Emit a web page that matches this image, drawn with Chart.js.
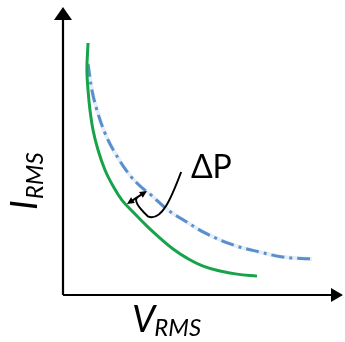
<!DOCTYPE html>
<html>
<head>
<meta charset="utf-8">
<script src="https://cdn.jsdelivr.net/npm/chart.js@4"></script>
<style>
html,body{margin:0;padding:0;background:#fff;}
#wrap{width:345px;height:342px;position:relative;}
</style>
</head>
<body>
<div id="wrap"><canvas id="c" width="345" height="342"></canvas></div>
<script>
// Data (arbitrary units, x: V_RMS, y: I_RMS)
const greenX = [0.90, 0.86, 0.90, 0.97, 1.08, 1.26, 1.51, 1.80, 2.12, 2.52, 3.02, 3.49, 3.96, 4.46, 5.04, 5.65, 6.26, 6.98];
const greenY = [8.81, 7.87, 7.17, 6.47, 5.77, 5.07, 4.37, 3.81, 3.32, 2.90, 2.41, 1.99, 1.61, 1.29, 1.01, 0.84, 0.73, 0.66];
const blueX  = [0.90, 1.04, 1.22, 1.51, 1.87, 2.34, 2.77, 3.13, 3.78, 4.39, 5.11, 6.12, 7.09, 7.91, 8.96];
const blueY  = [8.08, 7.17, 6.47, 5.66, 4.97, 4.27, 3.81, 3.53, 2.97, 2.59, 2.17, 1.75, 1.50, 1.33, 1.26];
const xTitle = ["V", "RMS"];
const yTitle = ["I", "RMS"];
const deltaLabel = "ΔP";

const toPts = (xs, ys) => xs.map((x, i) => ({x: x, y: ys[i]}));

const FONT = "Lato, 'Open Sans', sans-serif";

const decor = {
  id: 'decor',
  afterDatasetsDraw(chart) {
    const ctx = chart.ctx;
    const xs = chart.scales.x, ys = chart.scales.y;
    const L = xs.getPixelForValue(0), B = ys.getPixelForValue(0);
    const R = xs.getPixelForValue(10), T = ys.getPixelForValue(10);
    ctx.save();
    // axes
    ctx.strokeStyle = '#000'; ctx.fillStyle = '#000'; ctx.lineWidth = 2.2;
    ctx.beginPath(); ctx.moveTo(L, B); ctx.lineTo(L, T + 8); ctx.stroke();
    ctx.beginPath(); ctx.moveTo(L, B); ctx.lineTo(R - 6, B); ctx.stroke();
    // arrowheads
    ctx.beginPath(); ctx.moveTo(L, T - 2); ctx.lineTo(L - 9, T + 11); ctx.lineTo(L + 9, T + 11); ctx.closePath(); ctx.fill();
    ctx.beginPath(); ctx.moveTo(R + 2, B); ctx.lineTo(R - 10, B - 7); ctx.lineTo(R - 10, B + 7); ctx.closePath(); ctx.fill();

    // x title
    ctx.textBaseline = 'alphabetic'; ctx.textAlign = 'left';
    ctx.font = 'italic 37px ' + FONT;
    let x0 = L + 69, y0 = B + 37;
    ctx.fillText(xTitle[0], x0, y0);
    let w = ctx.measureText(xTitle[0]).width;
    ctx.font = 'italic 24px ' + FONT;
    ctx.fillText(xTitle[1], x0 + w - 1, y0 + 4);

    // y title (rotated)
    ctx.save();
    ctx.translate(L - 26, B - 85);
    ctx.rotate(-Math.PI / 2);
    ctx.font = 'italic 37px ' + FONT;
    ctx.fillText(yTitle[0], 0, 0);
    w = ctx.measureText(yTitle[0]).width;
    ctx.font = 'italic 24px ' + FONT;
    ctx.fillText(yTitle[1], w + 1, 6);
    ctx.restore();

    // delta P label
    ctx.font = '32px ' + FONT;
    ctx.fillText(deltaLabel, xs.getPixelForValue(4.6), ys.getPixelForValue(4.1));

    // double arrow between curves
    const gx = xs.getPixelForValue(2.30), gy = ys.getPixelForValue(3.18);
    const bx = xs.getPixelForValue(3.02), by = ys.getPixelForValue(3.64);
    ctx.lineWidth = 2;
    ctx.beginPath(); ctx.moveTo(gx + 3, gy - 2); ctx.lineTo(bx - 3, by + 2); ctx.stroke();
    const head = (tx, ty, fx, fy) => {
      const a = Math.atan2(ty - fy, tx - fx), s = 8;
      ctx.beginPath(); ctx.moveTo(tx, ty);
      ctx.lineTo(tx - s * Math.cos(a - 0.45), ty - s * Math.sin(a - 0.45));
      ctx.lineTo(tx - s * Math.cos(a + 0.45), ty - s * Math.sin(a + 0.45));
      ctx.closePath(); ctx.fill();
    };
    head(gx, gy, bx, by); head(bx, by, gx, gy);
    // leader from label
    const mx = (gx + bx) / 2, my = (gy + by) / 2;
    ctx.beginPath();
    ctx.moveTo(xs.getPixelForValue(4.25), ys.getPixelForValue(4.3));
    ctx.bezierCurveTo(xs.getPixelForValue(3.9), ys.getPixelForValue(3.4),
                      xs.getPixelForValue(3.55), ys.getPixelForValue(2.55),
                      xs.getPixelForValue(3.05), ys.getPixelForValue(2.75));
    ctx.quadraticCurveTo(mx - 4, my + 5, mx, my);
    ctx.stroke();
    ctx.restore();
  }
};

new Chart(document.getElementById('c'), {
  type: 'scatter',
  data: {
    datasets: [
      { data: toPts(blueX, blueY), showLine: true, borderColor: '#e6eef8', borderWidth: 4, order: 3,
        pointRadius: 0, tension: 0.4, fill: false },
      { data: toPts(blueX, blueY), showLine: true, borderColor: '#5a8fcc', borderWidth: 3, order: 2,
        borderDash: [13, 5, 3, 5], pointRadius: 0, tension: 0.4, fill: false },
      { data: toPts(greenX, greenY), showLine: true, borderColor: '#17a34a', borderWidth: 3, order: 1,
        pointRadius: 0, tension: 0.4, fill: false }
    ]
  },
  options: {
    responsive: false, animation: false, devicePixelRatio: 1,
    layout: { padding: { left: 63, right: 4, top: 9, bottom: 47 } },
    plugins: { legend: { display: false }, tooltip: { enabled: false } },
    scales: {
      x: { type: 'linear', min: 0, max: 10, display: false },
      y: { type: 'linear', min: 0, max: 10, display: false }
    }
  },
  plugins: [decor]
});
</script>
</body>
</html>
